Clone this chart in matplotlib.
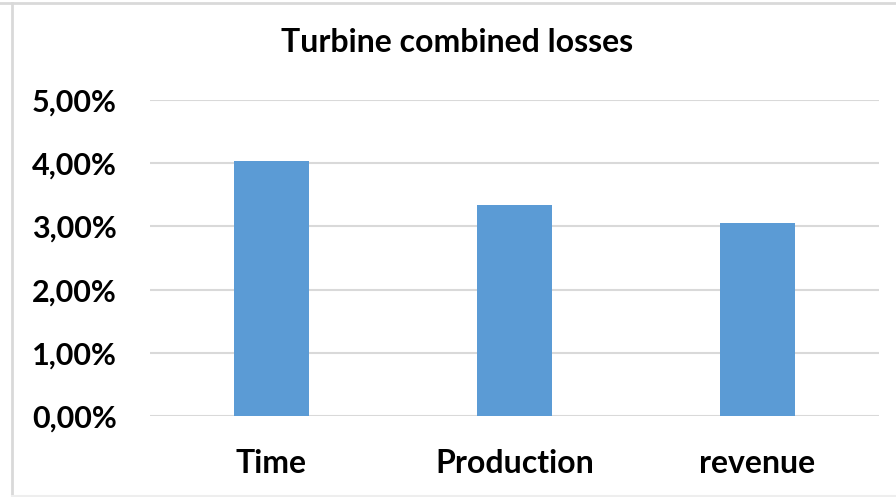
import matplotlib
matplotlib.use("Agg")
import matplotlib.pyplot as plt
from matplotlib.ticker import FuncFormatter
from matplotlib.lines import Line2D

categories = ["Time", "Production", "revenue"]
values = [4.03, 3.34, 3.06]
yticks = [0, 1, 2, 3, 4, 5]

plt.rcParams['font.family'] = ['Lato', 'DejaVu Sans']

fig = plt.figure(figsize=(8.96, 4.97), dpi=100)
ax = fig.add_axes([150/896, (497-416)/497, (879-150)/896, (416-100)/497])

x = range(len(categories))
ax.bar(x, values, width=0.31, color="#5B9BD5", zorder=3)
ax.set_xlim(-0.5, len(categories) - 0.5)
ax.set_ylim(0, 5)
ax.set_yticks(yticks)
ax.yaxis.set_major_formatter(FuncFormatter(lambda v, p: f"{v:.2f}%".replace(".", ",")))
ax.set_xticks(list(x))
ax.set_xticklabels(categories)
ax.grid(axis="y", color="#d9d9d9", linewidth=1.5, zorder=0)
for s in ax.spines.values():
    s.set_visible(False)
ax.tick_params(axis="both", length=0)
ax.tick_params(axis="y", pad=24, labelsize=22)
ax.tick_params(axis="x", pad=24, labelsize=23)
for lab in ax.get_xticklabels() + ax.get_yticklabels():
    lab.set_fontweight("bold")

fig.text(457/896, 1 - 43/497, "Turbine combined losses", ha="center", va="center",
         fontsize=23, fontweight="bold")

bc = "#d9d9d9"
fig.add_artist(Line2D([11.5/896, 11.5/896], [1 - 3/497, 1 - 496/497], transform=fig.transFigure, color=bc, lw=2))
fig.add_artist(Line2D([0, 1], [1 - 3/497, 1 - 3/497], transform=fig.transFigure, color=bc, lw=2))
fig.add_artist(Line2D([11.5/896, 1], [1 - 496/497, 1 - 496/497], transform=fig.transFigure, color="#eeeeee", lw=1.5))

fig.savefig("out.png", dpi=100)
